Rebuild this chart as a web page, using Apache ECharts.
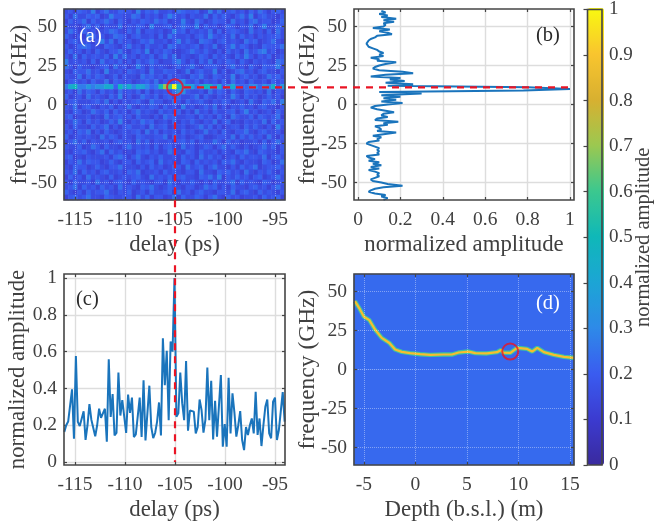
<!DOCTYPE html>
<html>
<head>
<meta charset="utf-8">
<style>html,body{margin:0;padding:0;background:#fff}#c{width:655px;height:529px;filter:blur(0.45px)}</style>
<script src="https://cdn.jsdelivr.net/npm/echarts@6/dist/echarts.min.js"></script>
</head>
<body>
<div id="c"></div>
<script>
// ---------- tick labels ----------
const delayTicks = [-115, -110, -105, -100, -95];
const freqTicks = [-50, -25, 0, 25, 50];
const ampTicks = [0, 0.2, 0.4, 0.6, 0.8, 1];
const depthTicks = [-5, 0, 5, 10, 15];

// ---------- panel (c): amplitude against delay ----------
const delayStart = -116.07;
const delayStep = 0.1933;
const ampC = [
  .164,.2,.22,.227,.395,.127,.576,.218,.196,.19,.276,.12,.2,.315,.23,.23,.14,.2,.29,.24,
  .25,.29,.11,.558,.245,.37,.145,.158,.487,.253,.336,.333,.158,.367,.267,.35,.136,.15,.25,.35,
  .136,.445,.118,.118,.415,.19,.13,.158,.22,.324,.145,.673,.418,.605,.227,.655,.6,1,
  .246,.265,.487,.32,.228,.549,.17,.28,.283,.274,.156,.19,.34,.283,.16,.23,.513,.228,.442,.123,
  .333,.138,.147,.473,.083,.207,.083,.458,.156,.373,.27,.138,.2,.277,.12,.065,.19,.147,.2,.237,
  .156,.382,.147,.237,.087,.2,.3,.34,.156,.129,.328,.35,.12,.174,.18,.38,.22
];

// ---------- panel (b): amplitude against frequency, from 60 GHz down to -60 GHz ----------
const freqTop = 60;
const ampB = [
  .11,.13,.10,.14,.11,.18,.12,.17,.12,.13,.12,.07,.15,.10,.14,.16,.09,.08,.06,.05,
  .05,.04,.035,.05,.07,.09,.10,.12,.10,.12,.06,.10,.09,.18,.13,.10,.08,.07,.10,.21,
  .26,.13,.06,.20,.15,.22,.13,.26,.14,.8,1,.78,.10,.30,.11,.20,.12,.18,.11,.21,
  .14,.08,.06,.09,.13,.17,.12,.11,.14,.09,.08,.19,.12,.14,.08,.10,.11,.09,.18,.12,
  .07,.11,.09,.10,.05,.04,.06,.08,.10,.09,.10,.09,.10,.04,.05,.08,.05,.10,.07,.11,
  .06,.10,.05,.08,.10,.09,.10,.08,.06,.07,.11,.14,.21,.12,.08,.06,.05,.08,.13,.11,.14,.12
];

// ---------- panel (a): background amplitude levels, top row first ----------
const spectrogramRows = [
  "2314326 1352243 3162435 2231543 3412625 1342314 2531342",
  "3152243 4126332 2541323 1364231 3225142 4213526 1342213",
  "1423514 2353142 1324325 3412262 1531243 3152314 5233124",
  "3221352 4132251 3243162 2341353 2614231 2431325 1362243",
  "2531423 1235421 4251332 3126341 3232514 1343215 2314152",
  "4213164 2312543 1342231 4153223 1342632 3251423 1323342",
  "1342231 3625142 3124352 2313624 2154313 4232153 4123521",
  "3124542 2143213 5231422 3154232 3413251 2362431 2143335",
  "2423131 4213352 1342613 2431123 5324213 1423152 3562312",
  "3151423 3241625 2313241 3525132 1243142 3214263 1324123",
  "6232314 1523241 3142353 1224631 3142513 2431421 3232154",
  "5314221 2341523 1263142 3212423 5213342 1352314 2143362",
  "2143352 3162231 4323152 2433125 1342261 3124523 1342213",
  "3225142 4312413 2215342 3142321 4352143 2261342 3125342",
  "1342314 2251432 3123425 1323573 2413231 4152314 2231423",
  "3214231 3152342 1423132 4213423 1342315 2413221 3421352",
  "2315243 1423152 3241413 2325883 2231524 3142143 2315132",
  "4123152 3214261 3125324 1342422 3514213 2263142 3124231",
  "1342223 4251313 2342153 3125314 2342132 4312315 2143526",
  "3251342 1324132 5213243 1423162 3124251 3132423 1342213",
  "2143125 3241423 1352321 4232413 1523142 2341362 3123142",
  "3412231 2152342 3142213 1534223 3142314 2153224 1432351",
  "1253142 3124262 1325341 2314132 4213251 3412132 3251423",
  "3142214 2351313 4223152 3412231 2352413 1233142 4213162",
  "2314351 3142123 2341524 1323142 3125231 4213352 1342231",
  "4123232 1524313 2143223 3514231 2341123 3251424 2315213",
  "1352413 2231342 3152413 2231342 4132253 1423122 3141352",
  "3224125 3142213 5232314 1342152 3124313 5242131 2352413",
  "2133421 3514231 2143423 1253214 3142231 3214352 1432213",
  "3412132 2231453 1352132 4223142 3152423 1231423 3251342",
  "1325243 3124213 3142341 5232143 1423231 4352132 2143125",
  "2143312 4213352 2213142 3124315 2341352 2131423 5123342",
  "3251423 1342231 4351223 1423213 3152214 3423152 1324213",
  "1423152 3214123 2342152 3241342 2143526 1324231 3412352",
  "3142231 5231342 1423213 3152132 4213142 2351423 2143123",
  "2351423 1423152 3214352 1243213 3125341 3142213 4231352",
  "4213142 3352132 4123142 2341523 1342213 3251342 1423213",
  "1342352 2143223 3152413 3125142 2431352 1423122 3142341"
];
const ridgeRow = 15;

// ---------- panel (d): tracked peak against depth ----------
const depthRidge = [-5.88,-5.39,-5,-4.48,-3.93,-3.28,-2.53,-1.98,-1.33,-0.52,0.45,1.43,2.73,2.82,3.54,4.19,5.16,5.32,5.81,6.95,7.92,8.31,8.5,9.22,9.87,10.84,11.33,11.82,12.47,13.44,14.42,15.39];
const freqRidge = [43.8,38.5,33.8,31.6,25.6,20.3,17,12.8,11.3,10.5,9.8,9.4,9.6,8.5,9.6,10.9,11.5,12.4,10.5,10.3,11.1,12.5,10.8,10.7,13.9,13.2,11.5,13.9,11.1,9.4,8.1,7.5];
const depthBackground = [[0.228, 0.23], [0.23, 0.228]];

// ---------- marked point ----------
const markA = [-105, 11];
const markD = [9.2, 11.5];

// ---------- look ----------
const parula = ['#3a2a9e','#3b3bd0','#3a5cf0','#2e8ae8','#1ca5d5','#0fb8b8','#3cc88e','#9cc850','#d8b030','#f9c52e','#f9f910'];
const FONT = '"Liberation Serif", "Times New Roman", serif';
const INK = '#404040';
const LINE = '#1a74bc';
const RED = '#ea1424';
const FRAME = '#454545';

const DELAY_RANGE = [-116.1, -94];
const FREQ_RANGE = [-61.2, 61.2];
const AMP_H_RANGE = [-0.019, 1.019];
const AMP_V_RANGE = [-0.016, 1.022];
const DEPTH_RANGE = [-5.97, 15.39];

// ---------- derived tables ----------
const rows = spectrogramRows.map(r => r.replace(/ /g, ''));
const nCols = rows[0].length;
const heatA = [];
rows.forEach((r, j) => {
  for (let i = 0; i < nCols; i++) heatA.push([i, j, 0.095 + 0.03 * Number(r[i])]);
});
// the bright row of (a) is the same cut that panel (c) shows
const cellMax = new Array(nCols).fill(0), cellSum = new Array(nCols).fill(0), cellN = new Array(nCols).fill(0);
ampC.forEach((a, k) => {
  const d = delayStart + k * delayStep;
  const i = Math.floor((d - DELAY_RANGE[0]) / (DELAY_RANGE[1] - DELAY_RANGE[0]) * nCols);
  if (i >= 0 && i < nCols) { cellMax[i] = Math.max(cellMax[i], a); cellSum[i] += a; cellN[i]++; }
});
cellMax.forEach((m, i) => {
  if (cellN[i]) heatA[ridgeRow * nCols + i][2] = m >= 1 ? 1 : cellSum[i] / cellN[i] * 1.35;
});
const heatD = [];
depthBackground.forEach((r, j) => r.forEach((v, i) => heatD.push([i, j, v])));
const seriesC = ampC.map((a, k) => [delayStart + k * delayStep, a]);
const seriesB = ampB.map((a, k) => [a, freqTop - k]);
const seriesRidge = depthRidge.map((d, k) => [d, freqRidge[k]]);

// ---------- layout builders ----------
const grids = [], xAxes = [], yAxes = [];
function addGrid(left, top, width, height, framed) {
  grids.push({ left, top, width, height, containLabel: false, show: framed, z: 6,
    borderColor: FRAME, borderWidth: 1.6, backgroundColor: 'transparent' });
  return grids.length - 1;
}
function hiddenCat(gridIndex, n, inverse) {
  return { type: 'category', show: false, gridIndex, inverse: !!inverse,
    data: Array.from({ length: n }, (_, i) => i) };
}
function valueAxis(gridIndex, range, ticks, position, withLabel, grid, z, name, nameGap, margin, nameSize) {
  const a = {
    type: 'value', gridIndex, position, min: range[0], max: range[1], z,
    axisLine: { show: false, onZero: false },
    axisTick: { show: true, inside: true, length: 3, customValues: ticks, lineStyle: { color: FRAME, width: 1.2 } },
    axisLabel: { show: withLabel, customValues: ticks, formatter: v => String(v), margin: margin,
      color: INK, fontFamily: FONT, fontSize: 19.5, hideOverlap: false, showMinLabel: true, showMaxLabel: true },
    splitLine: grid || { show: false },
    minorTick: { show: false }
  };
  if (name) {
    a.name = name; a.nameLocation = 'middle'; a.nameGap = nameGap; a.nameMoveOverlap = false;
    a.nameTextStyle = { color: INK, fontFamily: FONT, fontSize: nameSize || 22.8 };
  }
  return a;
}
function panel(g, xr, xt, yr, yt, grid, z, xName, yName, yGap, ySize) {
  const xi = xAxes.length, yi = yAxes.length;
  xAxes.push(valueAxis(g, xr, xt, 'bottom', true, grid, z, xName, 34, 10));
  yAxes.push(valueAxis(g, yr, yt, 'left', true, grid, z, yName, yGap, 7, ySize));
  xAxes.push(valueAxis(g, xr, xt, 'top', false, null, z));
  yAxes.push(valueAxis(g, yr, yt, 'right', false, null, z));
  return { x: xi, y: yi };
}
const dotted = { show: true, lineStyle: { type: 'dotted', color: 'rgba(255,255,255,0.38)', width: 1 } };
const soft = { show: true, lineStyle: { type: 'solid', color: '#dddddd', width: 1.4 } };

// heat layers (hidden category axes) share their rectangles with the value axes
const gAh = addGrid(64, 9, 221, 191, false);
const gAv = addGrid(64, 9, 221, 191, true);
const gB = addGrid(354, 9, 220, 191, true);
const gC = addGrid(64, 274, 221, 191, true);
const gDh = addGrid(354, 274, 220, 191, false);
const gDv = addGrid(354, 274, 220, 191, true);
const gBar = addGrid(587.5, 8, 16.5, 457, true);

const axAh = { x: xAxes.length, y: yAxes.length };
xAxes.push(hiddenCat(gAh, nCols)); yAxes.push(hiddenCat(gAh, rows.length, true));
const axDh = { x: xAxes.length, y: yAxes.length };
xAxes.push(hiddenCat(gDh, depthBackground[0].length)); yAxes.push(hiddenCat(gDh, depthBackground.length));

const axA = panel(gAv, DELAY_RANGE, delayTicks, FREQ_RANGE, freqTicks, dotted, 5, 'delay (ps)', 'frequency (GHz)', 32, 23.5);
const axB = panel(gB, AMP_H_RANGE, ampTicks, FREQ_RANGE, freqTicks, soft, 0, 'normalized amplitude', 'frequency (GHz)', 34, 23.5);
const axC = panel(gC, DELAY_RANGE, delayTicks, AMP_V_RANGE, ampTicks, soft, 0, 'delay (ps)', 'normalized amplitude', 34);
const axD = panel(gDv, DEPTH_RANGE, depthTicks, FREQ_RANGE, freqTicks, dotted, 5, 'Depth (b.s.l.) (m)', 'frequency (GHz)', 34, 23.5);

// colour bar axis
xAxes.push({ type: 'value', gridIndex: gBar, show: false, min: 0, max: 1 });
const barX = xAxes.length - 1;
yAxes.push({
  type: 'value', gridIndex: gBar, position: 'right', min: 0, max: 1, interval: 0.1, z: 7,
  axisLine: { show: false },
  axisTick: { show: true, inside: true, length: 4, lineStyle: { color: FRAME, width: 1.2 } },
  axisLabel: { color: INK, fontFamily: FONT, fontSize: 19, margin: 7, formatter: v => String(+v.toFixed(1)) },
  splitLine: { show: false },
  name: 'normalized amplitude', nameLocation: 'middle', nameGap: 31, nameRotate: 90, nameMoveOverlap: false,
  nameTextStyle: { color: INK, fontFamily: FONT, fontSize: 20.5 }
});
const barY = yAxes.length - 1;

const circle = { symbol: 'circle', symbolSize: 16, itemStyle: { color: 'transparent', borderColor: RED, borderWidth: 2 } };

const chart = echarts.init(document.getElementById('c'), null, { renderer: 'canvas', width: 655, height: 529 });
chart.setOption({
  animation: false,
  backgroundColor: '#fff',
  grid: grids,
  xAxis: xAxes,
  yAxis: yAxes,
  tooltip: { show: false },
  visualMap: {
    type: 'continuous', seriesIndex: [0, 1], min: 0, max: 1, calculable: false, hoverLink: false,
    left: 587.5, top: 8, itemWidth: 16.5, itemHeight: 457, padding: 0, text: null, show: true,
    inRange: { color: parula }
  },
  series: [
    { type: 'heatmap', name: 'a', xAxisIndex: axAh.x, yAxisIndex: axAh.y, data: heatA, progressive: 0, silent: true },
    { type: 'heatmap', name: 'd', xAxisIndex: axDh.x, yAxisIndex: axDh.y, data: heatD, progressive: 0, silent: true },
    { type: 'line', name: 'b', xAxisIndex: axB.x, yAxisIndex: axB.y, data: seriesB, showSymbol: false, smooth: false,
      lineStyle: { color: LINE, width: 2 }, silent: true },
    { type: 'line', name: 'c', xAxisIndex: axC.x, yAxisIndex: axC.y, data: seriesC, showSymbol: false,
      lineStyle: { color: LINE, width: 2 }, silent: true },
    { type: 'line', name: 'ridge edge', xAxisIndex: axD.x, yAxisIndex: axD.y, data: seriesRidge, showSymbol: false, z: 3,
      lineStyle: { color: '#3fc2a0', width: 4.4 }, silent: true },
    { type: 'line', name: 'ridge', xAxisIndex: axD.x, yAxisIndex: axD.y, data: seriesRidge, showSymbol: false, z: 3,
      lineStyle: { color: '#f7bd2e', width: 2.2 }, silent: true },
    Object.assign({ type: 'scatter', name: 'mark a', xAxisIndex: axA.x, yAxisIndex: axA.y, data: [markA], z: 8, silent: true }, circle),
    Object.assign({ type: 'scatter', name: 'mark d', xAxisIndex: axD.x, yAxisIndex: axD.y, data: [markD], z: 8, silent: true }, circle)
  ]
});

// connectors run across panels, so they are placed from the panels' own scales
const pA = chart.convertToPixel({ xAxisIndex: axA.x, yAxisIndex: axA.y }, markA);
const pC = chart.convertToPixel({ xAxisIndex: axC.x, yAxisIndex: axC.y }, [markA[0], 0]);
const pB = chart.convertToPixel({ xAxisIndex: axB.x, yAxisIndex: axB.y }, [1, markA[1]]);
const dash = { stroke: RED, lineWidth: 2.2, lineDash: [7, 6] };
function tag(text, x, y, fill) {
  return { type: 'text', x, y, z: 20, silent: true,
    style: { text, fill, font: '20.5px ' + FONT, verticalAlign: 'middle', textVerticalAlign: 'middle' } };
}
chart.setOption({
  graphic: [
    { type: 'line', z: 30, silent: true, shape: { x1: pA[0], y1: pA[1] + 9, x2: pC[0], y2: pC[1] }, style: dash },
    { type: 'line', z: 30, silent: true, shape: { x1: pA[0] + 9, y1: pA[1], x2: pB[0], y2: pB[1] }, style: dash },
    tag('(a)', 79, 37, '#ffffff'),
    tag('(b)', 536, 36, '#2a2a2a'),
    tag('(c)', 76, 300, '#2a2a2a'),
    tag('(d)', 536, 304, '#ffffff')
  ]
});
</script>
</body>
</html>
